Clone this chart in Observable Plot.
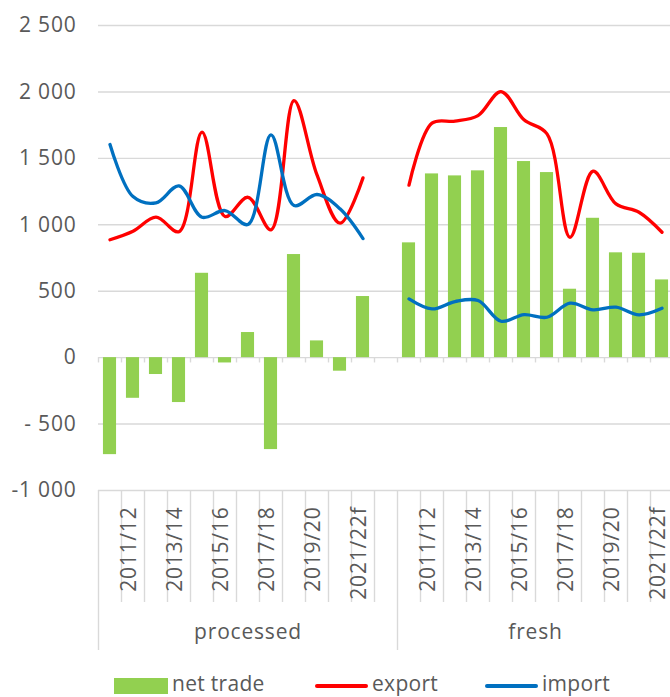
<!DOCTYPE html>
<html>
<head>
<meta charset="utf-8">
<script src="https://cdn.jsdelivr.net/npm/d3@7"></script>
<script src="https://cdn.jsdelivr.net/npm/@observablehq/plot@0.6"></script>
<style>
  body { margin: 0; background: #fff; font-family: "Open Sans", sans-serif; overflow: hidden; }
  #wrap { position: relative; width: 670px; height: 697px; overflow: hidden; }
  .leg { position: absolute; font-size: 21px; color: #595959; line-height: 1; letter-spacing: 0.3px; }
  .sw { position: absolute; }
</style>
</head>
<body>
<div id="wrap"></div>
<script>
const years = ["2010/11","2011/12","2012/13","2013/14","2014/15","2015/16","2016/17","2017/18","2018/19","2019/20","2020/21","2021/22f"];
const groups = ["processed", "fresh"];

const processedNet    = [-730, -306, -127, -338, 635, -40, 189, -692, 776, 126, -102, 460];
const processedExport = [887, 951, 1057, 948, 1697, 1062, 1207, 962, 1935, 1375, 1012, 1353];
const processedImport = [1604, 1212, 1165, 1293, 1057, 1107, 1002, 1677, 1145, 1228, 1120, 896];

const freshNet    = [864, 1383, 1368, 1406, 1732, 1476, 1393, 515, 1049, 789, 786, 585];
const freshExport = [1298, 1765, 1780, 1822, 2003, 1790, 1684, 906, 1403, 1157, 1094, 944];
const freshImport = [442, 367, 422, 430, 274, 324, 304, 410, 360, 380, 322, 372];

const yTicks = [-1000, -500, 0, 500, 1000, 1500, 2000, 2500];
const yTickLabels = ["-1 000", "- 500", "0", "500", "1 000", "1 500", "2 000", "2 500"];

// table
const series = {
  processed: {net: processedNet, exp: processedExport, imp: processedImport},
  fresh: {net: freshNet, exp: freshExport, imp: freshImport}
};
const rows = [];
groups.forEach((g, gi) => {
  years.forEach((yr, i) => {
    rows.push({group: g, year: yr, idx: i, pos: gi * 13 + i + 0.5,
      net: series[g].net[i], exp: series[g].exp[i], imp: series[g].imp[i]});
  });
});
const nSlots = 25;
const boundaries = d3.range(0, nSlots + 1);
const longBounds = [0, 13];
const shortBounds = boundaries.filter(b => !longBounds.includes(b) && b < nSlots);
const groupCenters = [{group: "processed", pos: 6.5}, {group: "fresh", pos: 19}];

const txtColor = "#595959";
const gridColor = "#d9d9d9";
const H = 668, plotTop = 25, plotBottom = 490;
const mb = H - plotBottom;

const chart = Plot.plot({
  width: 670,
  height: H,
  marginLeft: 98,
  marginRight: 0,
  marginTop: plotTop,
  marginBottom: mb,
  style: {fontFamily: "'Open Sans', sans-serif", background: "#fff", overflow: "hidden", letterSpacing: "0.8px"},
  x: {type: "linear", domain: [0, nSlots], range: [98, 673], axis: null},
  y: {domain: [-1000, 2500], axis: null},
  marks: [
    Plot.ruleY(yTicks, {stroke: gridColor, strokeWidth: 1.4}),
    // small ticks below zero line
    Plot.ruleX(boundaries, {y1: 0, y2: -40, stroke: gridColor, strokeWidth: 1.4}),
    // category separators in the axis area
    Plot.ruleX(shortBounds, {stroke: gridColor, strokeWidth: 1.4, insetTop: plotBottom - plotTop, insetBottom: -(602 - plotBottom)}),
    Plot.ruleX(longBounds, {stroke: gridColor, strokeWidth: 1.4, insetTop: plotBottom - plotTop, insetBottom: -(650 - plotBottom)}),
    Plot.rectY(rows, {x1: d => d.pos - 0.285, x2: d => d.pos + 0.285, y: "net", fill: "#92D050"}),
    Plot.line(rows, {x: "pos", y: "exp", z: "group", stroke: "#FF0000", strokeWidth: 3.3, curve: "catmull-rom"}),
    Plot.line(rows, {x: "pos", y: "imp", z: "group", stroke: "#0070C0", strokeWidth: 3.3, curve: "catmull-rom"}),
    // y tick labels
    Plot.text(yTicks, {x: 0, y: d => d, text: (d, i) => yTickLabels[i], textAnchor: "end", dx: -22, fontSize: 21, fill: txtColor}),
    // category labels
    Plot.text(rows.filter(d => d.idx % 2 === 1), {x: "pos", y: () => -1000, text: "year", rotate: -90, textAnchor: "end", dx: -3.8, dy: 16, fontSize: 21, fill: txtColor}),
    // group labels
    Plot.text(groupCenters, {x: "pos", y: () => -1000, text: "group", dy: 142, fontSize: 21, fill: txtColor})
  ]
});
const wrap = document.getElementById("wrap");
wrap.appendChild(chart);

// legend
const legendItems = [
  {label: "net trade", color: "#92D050", type: "rect", x: 114, tx: 172},
  {label: "export", color: "#FF0000", type: "line", x: 315, tx: 372},
  {label: "import", color: "#0070C0", type: "line", x: 485, tx: 542}
];
legendItems.forEach(it => {
  const sw = document.createElement("div");
  sw.className = "sw";
  sw.style.left = it.x + "px";
  sw.style.background = it.color;
  if (it.type === "rect") { sw.style.top = "678px"; sw.style.width = "54px"; sw.style.height = "16px"; }
  else { sw.style.top = "684px"; sw.style.width = "53px"; sw.style.height = "4px"; sw.style.borderRadius = "2px"; }
  wrap.appendChild(sw);
  const t = document.createElement("div");
  t.className = "leg";
  t.style.left = it.tx + "px";
  t.style.top = "673px";
  t.textContent = it.label;
  wrap.appendChild(t);
});
</script>
</body>
</html>
